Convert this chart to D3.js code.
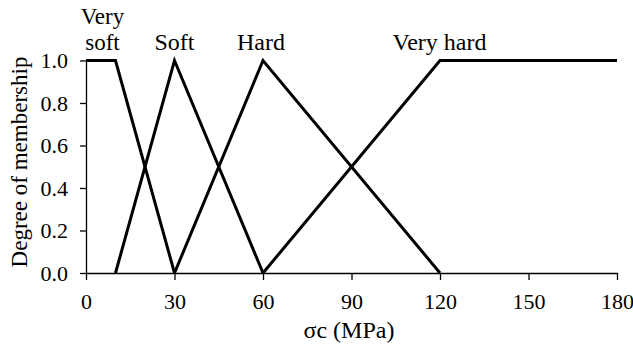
<!DOCTYPE html>
<meta charset="utf-8">
<html>
<head>
<title>Membership functions</title>
<script src="https://d3js.org/d3.v7.min.js"></script>
</head>
<body style="margin:0; background:#fff">
<script>

    var width = 633, height = 347;
    var serif = "'Liberation Serif', 'Times New Roman', serif";

    // membership functions (sigma c in MPa, degree)
    var names = ["Very soft", "Soft", "Hard", "Very hard"];
    var xs = [
        [0, 10, 30],
        [10, 30, 60],
        [30, 60, 120],
        [60, 120, 180]
    ];
    var ys = [
        [1, 1, 0],
        [0, 1, 0],
        [0, 1, 0],
        [0, 1, 1]
    ];
    // label anchor in data units
    var labelX = [10, 30, 60, 120];
    var xTicks = [0, 30, 60, 90, 120, 150, 180];
    var yTicks = [0, 0.2, 0.4, 0.6, 0.8, 1.0];

    var x = d3.scaleLinear().domain([0, 180]).range([86, 617]);
    var y = d3.scaleLinear().domain([0, 1]).range([273, 60.5]);

    var svg = d3.select("body").append("svg")
        .attr("width", width)
        .attr("height", height)
        .style("font-family", serif);

    var styleAxis = function(g) {
        g.style("font-family", serif).style("font-size", "22px");
        g.selectAll("path, line").style("stroke", "#000").style("stroke-width", "1.3px");
        g.selectAll("text").style("fill", "#000");
    };

    svg.append("g")
        .attr("transform", "translate(0," + y(0) + ")")
        .call(d3.axisBottom(x).tickValues(xTicks).tickSize(7).tickPadding(13).tickSizeOuter(0))
        .call(styleAxis);

    svg.append("g")
        .attr("transform", "translate(" + x(0) + ",0)")
        .call(d3.axisLeft(y).tickValues(yTicks).tickFormat(d3.format(".1f")).tickSize(6).tickPadding(12).tickSizeOuter(0))
        .call(styleAxis);

    var line = d3.line().x(d => x(d[0])).y(d => y(d[1]));

    svg.selectAll("path.mf")
        .data(names.map((n, i) => xs[i].map((v, j) => [v, ys[i][j]])))
        .enter().append("path")
        .attr("class", "mf")
        .attr("d", line)
        .style("fill", "none")
        .style("stroke", "#000")
        .style("stroke-width", "3px");

    // labels above the peaks ("Very soft" wraps onto two lines)
    var labelDx = [-13, 0, -2, -0.5];
    names.forEach(function(n, i) {
        var cx = x(labelX[i]) + labelDx[i];
        var lines = i == 0 ? n.split(" ") : [n];
        lines.forEach(function(s, k) {
            svg.append("text")
                .attr("x", cx)
                .attr("y", 50 - (lines.length - 1 - k) * 26)
                .attr("text-anchor", "middle")
                .style("font-family", serif)
                .style("font-size", i == 0 ? "23px" : "24px")
                .text(s);
        });
    });

    svg.append("text")
        .attr("x", 349)
        .attr("y", 338)
        .attr("text-anchor", "middle")
        .style("font-family", serif)
        .style("font-size", "24px")
        .text("σc (MPa)");

    svg.append("text")
        .attr("transform", "translate(27,162) rotate(-90)")
        .attr("text-anchor", "middle")
        .style("font-family", serif)
        .style("font-size", "23px")
        .text("Degree of membership");

</script>
</body>
</html>
